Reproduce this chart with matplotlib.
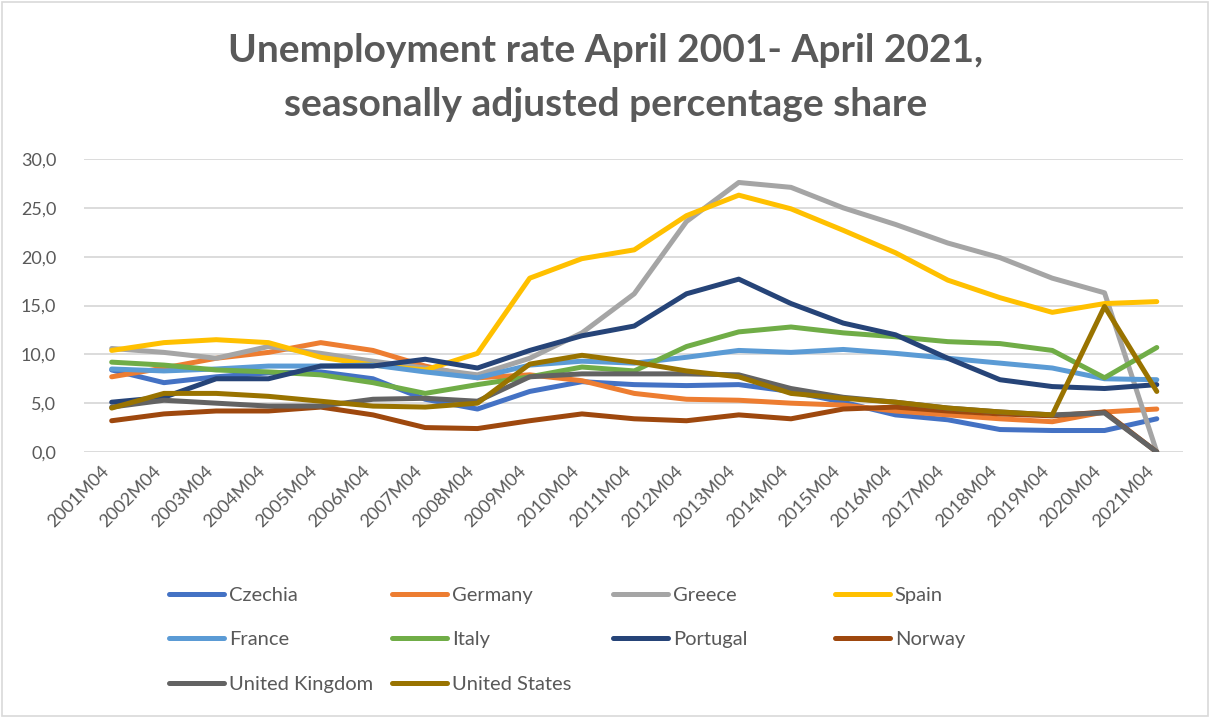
import matplotlib
matplotlib.use("Agg")
import matplotlib.pyplot as plt
from matplotlib.patches import Rectangle
from matplotlib.ticker import FuncFormatter

periods = [f"{y}M04" for y in range(2001, 2022)]

czechia = [8.4, 7.1, 7.7, 8.1, 8.2, 7.5, 5.4, 4.4, 6.2, 7.2, 6.9, 6.8, 6.9, 6.2, 5.1, 3.8, 3.3, 2.3, 2.2, 2.2, 3.4]
germany = [7.7, 8.6, 9.6, 10.2, 11.2, 10.4, 8.8, 7.6, 7.9, 7.3, 6.0, 5.4, 5.3, 5.0, 4.8, 4.2, 3.8, 3.4, 3.1, 4.1, 4.4]
greece = [10.6, 10.2, 9.6, 10.8, 10.1, 9.3, 8.6, 7.9, 9.6, 12.2, 16.2, 23.6, 27.6, 27.1, 25.0, 23.3, 21.4, 19.9, 17.8, 16.3, 0.0]
spain = [10.4, 11.2, 11.5, 11.2, 9.7, 8.9, 8.4, 10.1, 17.8, 19.8, 20.7, 24.2, 26.3, 24.9, 22.7, 20.4, 17.6, 15.8, 14.3, 15.2, 15.4]
france = [8.5, 8.3, 8.5, 8.8, 8.8, 8.9, 8.2, 7.6, 8.9, 9.3, 9.1, 9.7, 10.4, 10.2, 10.5, 10.1, 9.6, 9.1, 8.6, 7.5, 7.4]
italy = [9.2, 8.9, 8.4, 8.2, 7.9, 7.1, 6.0, 6.9, 7.7, 8.7, 8.3, 10.8, 12.3, 12.8, 12.2, 11.8, 11.3, 11.1, 10.4, 7.6, 10.7]
portugal = [5.1, 5.6, 7.5, 7.5, 8.8, 8.8, 9.5, 8.6, 10.4, 11.9, 12.9, 16.2, 17.7, 15.2, 13.2, 12.0, 9.6, 7.4, 6.7, 6.5, 6.9]
norway = [3.2, 3.9, 4.2, 4.2, 4.6, 3.8, 2.5, 2.4, 3.2, 3.9, 3.4, 3.2, 3.8, 3.4, 4.4, 4.6, 4.2, 3.9, 3.7, 4.1, 0.0]
united_kingdom = [4.6, 5.3, 5.0, 4.7, 4.7, 5.4, 5.5, 5.2, 7.7, 8.0, 8.0, 8.0, 7.9, 6.5, 5.6, 5.1, 4.5, 4.1, 3.8, 4.0, 0.0]
united_states = [4.5, 6.0, 6.0, 5.7, 5.2, 4.7, 4.6, 5.0, 9.0, 9.9, 9.2, 8.3, 7.7, 6.0, 5.5, 5.1, 4.5, 4.1, 3.8, 14.9, 6.2]

series = [
    ("Czechia", czechia, "#4472C4"),
    ("Germany", germany, "#ED7D31"),
    ("Greece", greece, "#A5A5A5"),
    ("Spain", spain, "#FFC000"),
    ("France", france, "#5B9BD5"),
    ("Italy", italy, "#70AD47"),
    ("Portugal", portugal, "#264478"),
    ("Norway", norway, "#9E480E"),
    ("United Kingdom", united_kingdom, "#636363"),
    ("United States", united_states, "#997300"),
]

text_color = "#595959"
plt.rcParams["font.family"] = ["Lato", "DejaVu Sans"]

fig = plt.figure(figsize=(12.12, 7.17), dpi=100)
ax = fig.add_axes([0.0693, 0.3696, 0.9067, 0.4086])

x = list(range(len(periods)))
handles = {}
for name, values, color in series:
    line, = ax.plot(x, values, color=color, linewidth=3.6, label=name,
                    solid_capstyle="round", solid_joinstyle="round")
    handles[name] = line

ax.set_xlim(-0.53, 20.5)
ax.set_ylim(0, 30)
ax.set_yticks([0, 5, 10, 15, 20, 25, 30])
ax.yaxis.set_major_formatter(FuncFormatter(lambda v, p: f"{v:.1f}".replace(".", ",")))
ax.set_xticks(x)
ax.set_xticklabels(periods, rotation=45, ha="right", va="top")
ax.tick_params(axis="both", length=0, labelsize=13, colors=text_color)
ax.tick_params(axis="x", pad=8)
ax.tick_params(axis="y", pad=20)
ax.grid(axis="y", color="#D9D9D9", linewidth=1.3)
ax.set_axisbelow(True)
for s in ax.spines.values():
    s.set_visible(False)

fig.text(0.5, 0.892, "Unemployment rate April 2001- April 2021,\nseasonally adjusted percentage share",
         ha="center", va="center", fontsize=28, fontweight="bold", color=text_color,
         linespacing=1.68)

# one legend per column so each column sits where it should
legend_columns = [
    (169, ["Czechia", "France", "United Kingdom"]),
    (392, ["Germany", "Italy", "United States"]),
    (613, ["Greece", "Portugal"]),
    (835, ["Spain", "Norway"]),
]
for left_px, names in legend_columns:
    leg = fig.legend([handles[n] for n in names], names, loc="upper left",
                     bbox_to_anchor=(left_px / 1212, 0.182), frameon=False,
                     fontsize=14.5, handlelength=2.75, handletextpad=0.22,
                     labelspacing=1.36, borderaxespad=0, borderpad=0)
    for t in leg.get_texts():
        t.set_color(text_color)

fig.add_artist(Rectangle((0.002, 0.002), 0.995, 0.995, transform=fig.transFigure,
                         fill=False, edgecolor="#D9D9D9", linewidth=1.2))

fig.savefig("out.png", dpi=100)
